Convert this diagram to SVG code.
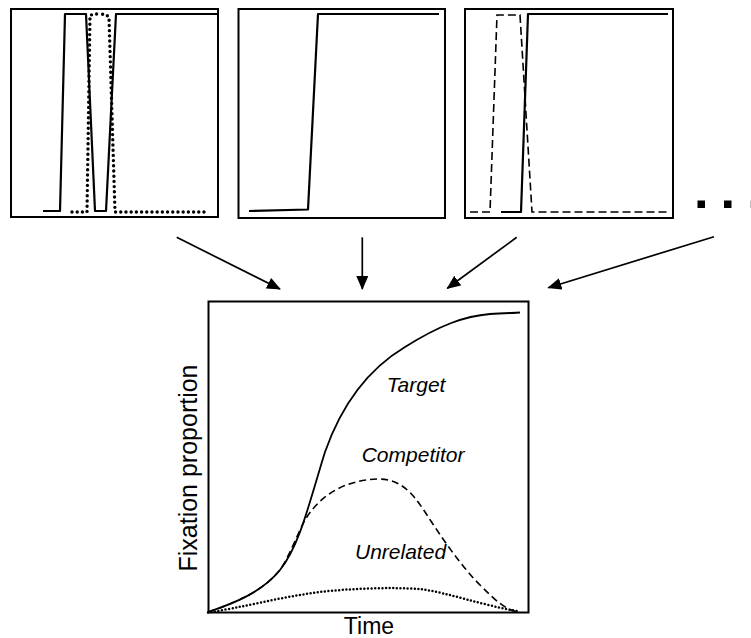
<svg xmlns="http://www.w3.org/2000/svg" width="751" height="638" viewBox="0 0 751 638">
<style>
.frame{fill:none;stroke:#000;stroke-width:2}
.ln{fill:none;stroke:#000;stroke-width:2.2;stroke-linejoin:round}
.dash{fill:none;stroke:#000;stroke-width:1.6;stroke-dasharray:8 4}
.dot{fill:none;stroke:#000;stroke-width:3.4;stroke-dasharray:0 5.2;stroke-linecap:round}
.cdash{fill:none;stroke:#000;stroke-width:1.6;stroke-dasharray:7 4}
.cdot{fill:none;stroke:#000;stroke-width:2.5;stroke-dasharray:0 3.6;stroke-linecap:round}
.arr{fill:none;stroke:#000;stroke-width:1.7;marker-end:url(#ah)}
.lab{font-family:"Liberation Sans",Arial,sans-serif;font-style:italic;font-size:21px;fill:#000}
.ax{font-family:"Liberation Sans",Arial,sans-serif;font-size:23px;fill:#000}
</style>
<defs>
<marker id="ah" markerUnits="userSpaceOnUse" markerWidth="14" markerHeight="12" refX="13" refY="6" orient="auto">
<path d="M0,0 L14,6 L0,12 z" fill="#000"/>
</marker>
</defs>
<g id="panel1">
<rect class="frame" x="11" y="9" width="207" height="208"/>
<polyline class="ln" points="43,211 60,211 65,14 86,14 95,211 106,211 116,14 217,14"/>
<path class="dot" d="M72,212 L87,212 L90,16 Q91,14 99,14 Q108,14 109,18 L115,212 L207,212"/>
</g>
<g id="panel2">
<rect class="frame" x="238.5" y="9" width="206.5" height="209"/>
<polyline class="ln" points="249,211 308,209.5 318,14 439,14"/>
</g>
<g id="panel3">
<rect class="frame" x="465" y="9" width="208" height="209"/>
<polyline class="ln" points="501,212 521,212 528,14 668,14"/>
<polyline class="dash" points="470,212 490,212 497,15 520,15 532,212 667,212"/>
</g>
<g id="ellipsis">
<rect x="697.5" y="200.5" width="7.5" height="7.5" fill="#000"/>
<rect x="724" y="200.5" width="7.5" height="7.5" fill="#000"/>
<rect x="750" y="200.5" width="7.5" height="7.5" fill="#000" opacity="0.25"/>
</g>
<g id="connectors">
<line class="arr" x1="176.7" y1="237.3" x2="280" y2="289"/>
<line class="arr" x1="362.3" y1="237.3" x2="362.3" y2="289"/>
<line class="arr" x1="516.7" y1="237.3" x2="447.3" y2="288.3"/>
<line class="arr" x1="714" y1="236.7" x2="548.3" y2="287.7"/>
</g>
<g id="plot">
<rect class="frame" x="208.5" y="301.5" width="320" height="311"/>
<path class="ln" style="stroke-width:1.8" d="M208,612 C235,603 262,592 280,570 C300,545 310,500 325,452 C345,395 375,365 405,347 C440,325 465,316 490,314 C505,313 515,313 520,312.5"/>
<path class="cdash" d="M208,612 C235,603 262,592 280,570 C290,555 297,535 305,520 C320,495 345,480 378,479 C400,479 412,492 425,512 C440,535 460,565 480,585 C495,600 505,610 520,612.5"/>
<path class="cdot" d="M208,612.5 C240,608 280,597 320,592 C350,588.5 390,587 420,589 C450,593 480,605 520,611.5"/>
<text class="lab" x="386.7" y="391.7">Target</text>
<text class="lab" x="361.7" y="462">Competitor</text>
<text class="lab" x="355" y="558.5">Unrelated</text>
<text class="ax" x="369" y="634" text-anchor="middle">Time</text>
<text class="ax" transform="translate(197,468) rotate(-90)" text-anchor="middle" style="font-size:25px">Fixation proportion</text>
</g>
</svg>
